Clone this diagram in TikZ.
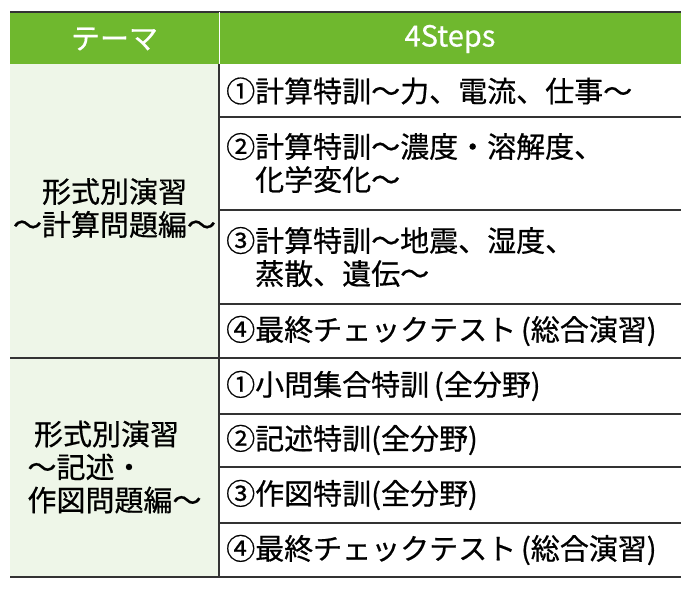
\documentclass[tikz,border=0pt]{standalone}
\usepackage{fontspec}
\setmainfont[FakeBold=0.6]{Noto Sans CJK JP}
\definecolor{hdr}{HTML}{6FB82E}
\definecolor{pale}{HTML}{EEF6E8}
\begin{document}
\begin{tikzpicture}[x=1pt,y=-1pt,
  txt/.style={font=\fontsize{29}{33}\selectfont,anchor=west,align=left,inner sep=0pt},
  ctr/.style={font=\fontsize{29}{33}\selectfont,align=center,inner sep=0pt},
  rule/.style={line width=1.2pt,draw=black!80}]
\useasboundingbox (0,0) rectangle (689,596);
\fill[hdr] (10,12) rectangle (681,64);
\fill[pale] (10,64) rectangle (219,577);
\draw[rule] (10,12) -- (681,12);
\draw[white,line width=1pt] (219,12) -- (219,64);
\draw[rule] (219,64) -- (219,577);
\foreach \y in {117,210,304,414,467,523} \draw[rule] (219,\y) -- (681,\y);
\draw[rule] (10,358) -- (681,358);
\draw[rule] (10,577) -- (681,577);
\node[ctr,text=white] (h1) at (114.5,39) {テーマ};
\node[ctr,text=white] (h2) at (450,39) {4Steps};
\node[ctr] (l1) at (114.5,208) {形式別演習\\～計算問題編～};
\node[ctr,align=left] (l2) at (114.5,467) {\ 形式別演習\\～記述・\\作図問題編～};
\node[txt] (r1) at (226,91) {①計算特訓～力、電流、仕事～};
\node[txt] (r2) at (226,163) {②計算特訓～濃度・溶解度、\\\hspace*{1em}化学変化～};
\node[txt] (r3) at (226,257) {③計算特訓～地震、湿度、\\\hspace*{1em}蒸散、遺伝～};
\node[txt] (r4) at (226,331) {④最終チェックテスト\,(総合演習)};
\node[txt] (r5) at (226,386) {①小問集合特訓\,(全分野)};
\node[txt] (r6) at (226,440) {②記述特訓(全分野)};
\node[txt] (r7) at (226,495) {③作図特訓(全分野)};
\node[txt] (r8) at (226,550) {④最終チェックテスト\,(総合演習)};
\end{tikzpicture}
\end{document}
